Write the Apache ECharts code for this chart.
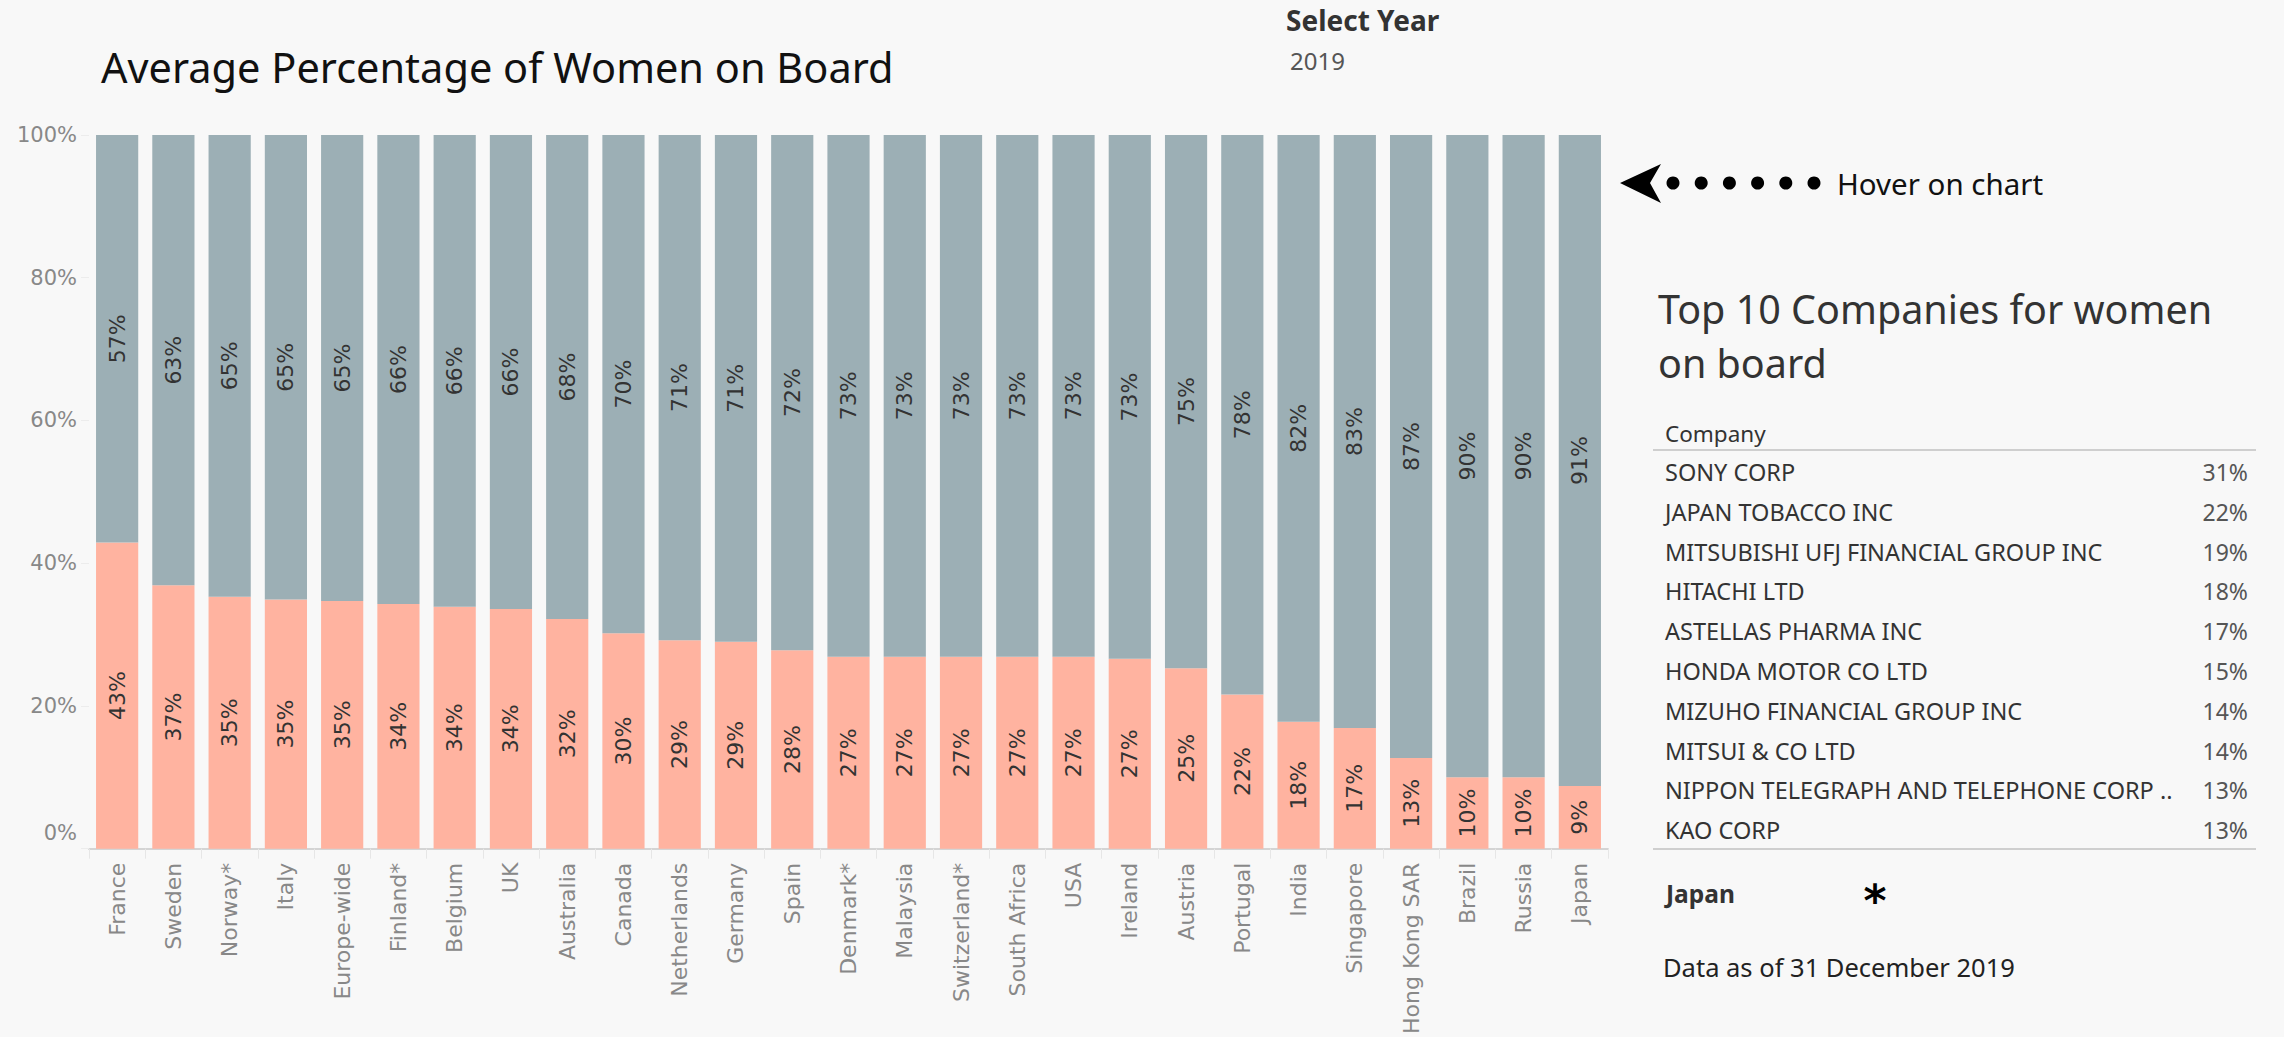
<!DOCTYPE html>
<html>
<head>
<meta charset="utf-8">
<title>Average Percentage of Women on Board</title>
<script src="https://cdn.jsdelivr.net/npm/echarts@6/dist/echarts.min.js"></script>
<style>
  html, body { margin: 0; padding: 0; background: #f8f8f8; }
  #chart { width: 2284px; height: 1037px; }
</style>
</head>
<body>
<div id="chart"></div>
<script>
// countries, sorted by share of women on board (2019)
const categories = [
    'France', 'Sweden', 'Norway*', 'Italy', 'Europe-wide', 'Finland*', 'Belgium', 'UK',
    'Australia', 'Canada', 'Netherlands', 'Germany', 'Spain', 'Denmark*', 'Malaysia',
    'Switzerland*', 'South Africa', 'USA', 'Ireland', 'Austria', 'Portugal', 'India',
    'Singapore', 'Hong Kong SAR', 'Brazil', 'Russia', 'Japan'
];
const womenShare = [
    42.9, 36.9, 35.3, 34.9, 34.7, 34.3, 33.9, 33.6, 32.2, 30.2, 29.2, 29.0, 27.8, 26.9,
    26.9, 26.9, 26.9, 26.9, 26.6, 25.3, 21.6, 17.8, 16.9, 12.7, 10.0, 10.0, 8.8
];
const menShare = [
    57.1, 63.1, 64.7, 65.1, 65.3, 65.7, 66.1, 66.4, 67.8, 69.8, 70.8, 71.0, 72.2, 73.1,
    73.1, 73.1, 73.1, 73.1, 73.4, 74.7, 78.4, 82.2, 83.1, 87.3, 90.0, 90.0, 91.2
];

// top 10 table (Japan selected)
const companies = [
    'SONY CORP', 'JAPAN TOBACCO INC', 'MITSUBISHI UFJ FINANCIAL GROUP INC', 'HITACHI LTD',
    'ASTELLAS PHARMA INC', 'HONDA MOTOR CO LTD', 'MIZUHO FINANCIAL GROUP INC', 'MITSUI & CO LTD',
    'NIPPON TELEGRAPH AND TELEPHONE CORP ..', 'KAO CORP'
];
const companyShares = [31, 22, 19, 18, 17, 15, 14, 14, 13, 13];

const selectedYear = '2019';
const selectedCountry = 'Japan';

const chart = echarts.init(document.getElementById('chart'), null, { renderer: 'svg' });

const barLabel = {
    show: true,
    position: 'inside',
    rotate: 90,
    fontFamily: 'DejaVu Sans',
    fontSize: 22,
    color: '#333',
    formatter: (p) => Math.round(p.value) + '%'
};

// right panel: arrow hint, table, footnote
const graphics = [];

graphics.push({
    type: 'text', left: 1286, top: 6,
    style: { text: 'Select Year', font: 'bold 28px "Noto Sans"', fill: '#333' }
});
graphics.push({
    type: 'text', left: 1290, top: 48,
    style: { text: selectedYear, font: '24px "Noto Sans"', fill: '#555' }
});

graphics.push({
    type: 'polygon',
    shape: { points: [[1620, 183], [1661, 164], [1650, 183], [1661, 203]] },
    style: { fill: '#000' }
});
for (let i = 0; i < 6; i++) {
    graphics.push({
        type: 'circle',
        shape: { cx: 1673 + i * 28.2, cy: 183, r: 6.5 },
        style: { fill: '#000' }
    });
}
graphics.push({
    type: 'text', x: 1837, y: 183,
    style: { text: 'Hover on chart', font: '29.5px "Noto Sans"', fill: '#111', verticalAlign: 'middle' }
});

graphics.push({
    type: 'text', x: 1658, y: 282,
    style: {
        text: 'Top 10 Companies for women\non board',
        font: '39.5px "Noto Sans"', lineHeight: 54, fill: '#333'
    }
});
graphics.push({
    type: 'text', x: 1665, y: 433,
    style: { text: 'Company', font: '22.5px "Noto Sans"', fill: '#333', verticalAlign: 'middle' }
});
graphics.push({
    type: 'line', shape: { x1: 1653, y1: 450, x2: 2256, y2: 450 },
    style: { stroke: '#cfcfcf', lineWidth: 2 }
});
companies.forEach((name, i) => {
    const y = 472 + i * 39.8;
    graphics.push({
        type: 'text', x: 1665, y: y,
        style: { text: name, font: '23.5px "Noto Sans"', fill: '#333', verticalAlign: 'middle' }
    });
    graphics.push({
        type: 'text', x: 2248, y: y,
        style: { text: companyShares[i] + '%', font: '23px "Noto Sans"', fill: '#555',
                 align: 'right', verticalAlign: 'middle' }
    });
});
graphics.push({
    type: 'line', shape: { x1: 1653, y1: 849, x2: 2256, y2: 849 },
    style: { stroke: '#cfcfcf', lineWidth: 2 }
});
graphics.push({
    type: 'text', x: 1666, y: 893,
    style: { text: selectedCountry, font: 'bold 24.5px "Noto Sans"', fill: '#333', verticalAlign: 'middle' }
});
graphics.push({
    type: 'text', x: 1875, y: 900,
    style: { text: '*', font: 'bold 44px "DejaVu Sans"', fill: '#000', align: 'center', verticalAlign: 'middle' }
});
graphics.push({
    type: 'text', x: 1663, y: 967,
    style: { text: 'Data as of 31 December 2019', font: '25.5px "Noto Sans"', fill: '#222', verticalAlign: 'middle' }
});

const option = {
    backgroundColor: '#f8f8f8',
    animation: false,
    title: {
        text: 'Average Percentage of Women on Board',
        left: 96,
        top: 41,
        textStyle: { fontFamily: 'Noto Sans', fontSize: 41.5, fontWeight: 'normal', color: '#111' }
    },
    grid: { left: 89, right: 676, top: 135, bottom: 188, containLabel: false },
    xAxis: {
        type: 'category',
        data: categories,
        axisLine: { lineStyle: { color: '#d4d4d4', width: 2 } },
        axisTick: { show: true, interval: 0, length: 10, lineStyle: { color: '#e6e6e6' } },
        axisLabel: {
            interval: 0,
            rotate: 90,
            margin: 14,
            fontFamily: 'DejaVu Sans',
            fontSize: 22,
            color: '#888'
        }
    },
    yAxis: {
        type: 'value',
        min: 0,
        max: 100,
        interval: 20,
        splitLine: { show: false },
        axisLine: { show: false },
        axisTick: { show: true, length: 8, lineStyle: { color: '#ececec' } },
        axisLabel: {
            margin: 12,
            fontFamily: 'DejaVu Sans',
            fontSize: 21,
            color: '#888',
            formatter: (v) => v === 0 ? '{z|0%}' : v + '%',
            rich: {
                z: { fontFamily: 'DejaVu Sans', fontSize: 21, color: '#888', padding: [0, 0, 32, 0] }
            }
        }
    },
    series: [
        {
            name: 'Women',
            type: 'bar',
            stack: 'board',
            data: womenShare,
            barCategoryGap: '25%',
            itemStyle: { color: '#ffb3a0' },
            label: barLabel
        },
        {
            name: 'Men',
            type: 'bar',
            stack: 'board',
            data: menShare,
            barCategoryGap: '25%',
            itemStyle: { color: '#9cafb5' },
            label: barLabel
        }
    ],
    graphic: graphics
};

chart.setOption(option);
</script>
</body>
</html>
